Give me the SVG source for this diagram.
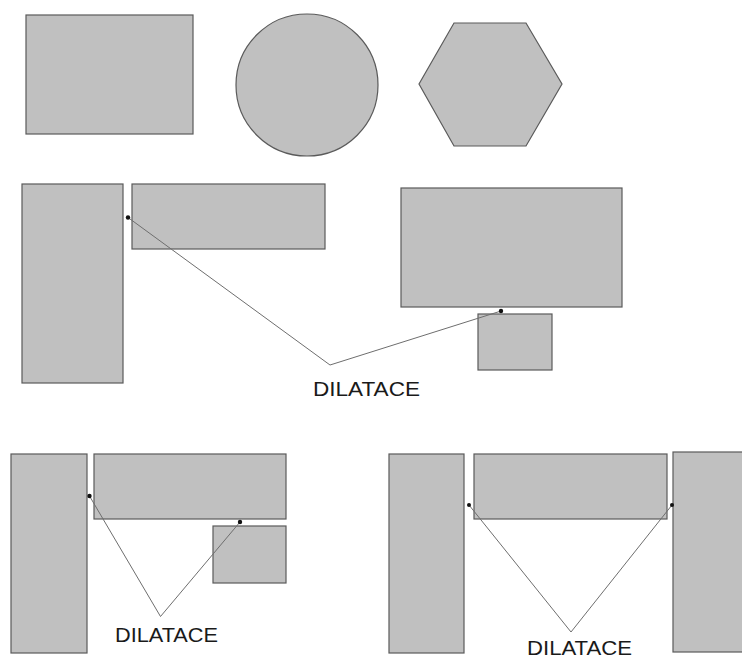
<svg xmlns="http://www.w3.org/2000/svg" width="742" height="659" viewBox="0 0 742 659">
  <style>
    .shape { fill: #c0c0c0; stroke: #5a5a5a; stroke-width: 1.2; }
    .lead { fill: none; stroke: #6e6e6e; stroke-width: 1; }
    .dot { fill: #111; }
    .label { font-family: "Liberation Sans", Arial, sans-serif; font-size: 20px; fill: #1a1a1a; }
  </style>
  <rect width="742" height="659" fill="#ffffff"/>

  <!-- basic shapes -->
  <g id="rect-basic"><rect class="shape" x="26" y="15" width="167" height="119"/></g>
  <g id="circle-basic"><circle class="shape" cx="307" cy="85" r="71"/></g>
  <g id="hexagon-basic"><polygon class="shape" points="419,84 454,23 526,23 562,84 526,146 454,146"/></g>

  <!-- example 1: L-corner and stacked blocks -->
  <g id="ex1-column"><rect class="shape" x="22" y="184" width="101" height="199"/></g>
  <g id="ex1-beam"><rect class="shape" x="132" y="184" width="193" height="65"/></g>
  <g id="ex1-block-large"><rect class="shape" x="401" y="188" width="221" height="119"/></g>
  <g id="ex1-block-small"><rect class="shape" x="478" y="314" width="74" height="56"/></g>

  <!-- example 2 -->
  <g id="ex2-column"><rect class="shape" x="11" y="454" width="76" height="199"/></g>
  <g id="ex2-beam"><rect class="shape" x="94" y="454" width="192" height="65"/></g>
  <g id="ex2-block"><rect class="shape" x="213" y="526" width="73" height="57"/></g>

  <!-- example 3 -->
  <g id="ex3-column-left"><rect class="shape" x="389" y="454" width="75" height="199"/></g>
  <g id="ex3-beam"><rect class="shape" x="474" y="454" width="193" height="65"/></g>
  <g id="ex3-column-right"><rect class="shape" x="673" y="452" width="80" height="200"/></g>

  <!-- leader lines to the joints -->
  <g id="connectors">
    <polyline class="lead" points="128,217.5 330,365 501,311"/>
    <polyline class="lead" points="89.5,496 160.5,616.5 240,522"/>
    <polyline class="lead" points="469,505 571,632 672,505"/>
  </g>

  <!-- joint markers -->
  <g id="joints">
    <circle class="dot" cx="128" cy="217.5" r="2.2"/>
    <circle class="dot" cx="501" cy="311" r="2.2"/>
    <circle class="dot" cx="89.5" cy="496" r="2.2"/>
    <circle class="dot" cx="240" cy="522" r="2.2"/>
    <circle class="dot" cx="469" cy="505" r="2"/>
    <circle class="dot" cx="672" cy="505" r="2"/>
  </g>

  <!-- labels -->
  <g id="labels">
    <text class="label" x="313" y="396" textLength="107" lengthAdjust="spacingAndGlyphs">DILATACE</text>
    <text class="label" x="115" y="642" textLength="103" lengthAdjust="spacingAndGlyphs">DILATACE</text>
    <text class="label" x="527" y="655" textLength="105" lengthAdjust="spacingAndGlyphs">DILATACE</text>
  </g>
</svg>
